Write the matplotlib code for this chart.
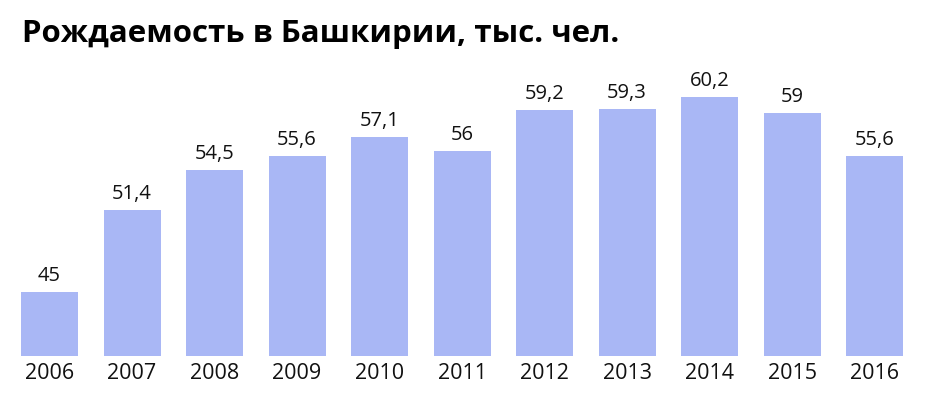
import matplotlib.pyplot as plt
import numpy as np

# data
years = ['2006', '2007', '2008', '2009', '2010', '2011', '2012', '2013', '2014', '2015', '2016']
births = [45, 51.4, 54.5, 55.6, 57.1, 56, 59.2, 59.3, 60.2, 59, 55.6]
value_labels = ['45', '51,4', '54,5', '55,6', '57,1', '56', '59,2', '59,3', '60,2', '59', '55,6']
title = 'Рождаемость в Башкирии, тыс. чел.'

bar_color = '#a9b7f5'

fig = plt.figure(figsize=(9.3, 4.02), dpi=100)
ax = fig.add_axes([0.0089, 0.112, 0.976, 0.739])

x = np.arange(len(years))
ax.bar(x, births, width=0.69, bottom=0, color=bar_color)
ax.set_xlim(-0.5, len(years) - 0.5)
ax.set_ylim(40, 63.2)

# values above the bars
for xi, v, lab in zip(x, births, value_labels):
    ax.annotate(lab, (xi, v), xytext=(0, 5), textcoords='offset points',
                ha='center', va='bottom', fontsize=14.5, family='Open Sans', color='#111111')

# years under the bars
for xi, yr in zip(x, years):
    ax.annotate(yr, (xi, 40), xytext=(0, -4), textcoords='offset points',
                ha='center', va='top', fontsize=15.5, family='Open Sans', color='#111111',
                annotation_clip=False)

for s in ax.spines.values():
    s.set_visible(False)
ax.set_xticks([])
ax.set_yticks([])

fig.text(0.024, 0.895, title, fontsize=22.5, fontweight='bold', family='Open Sans',
         ha='left', va='baseline', color='black')

plt.savefig('out.png', dpi=100)
plt.close()
